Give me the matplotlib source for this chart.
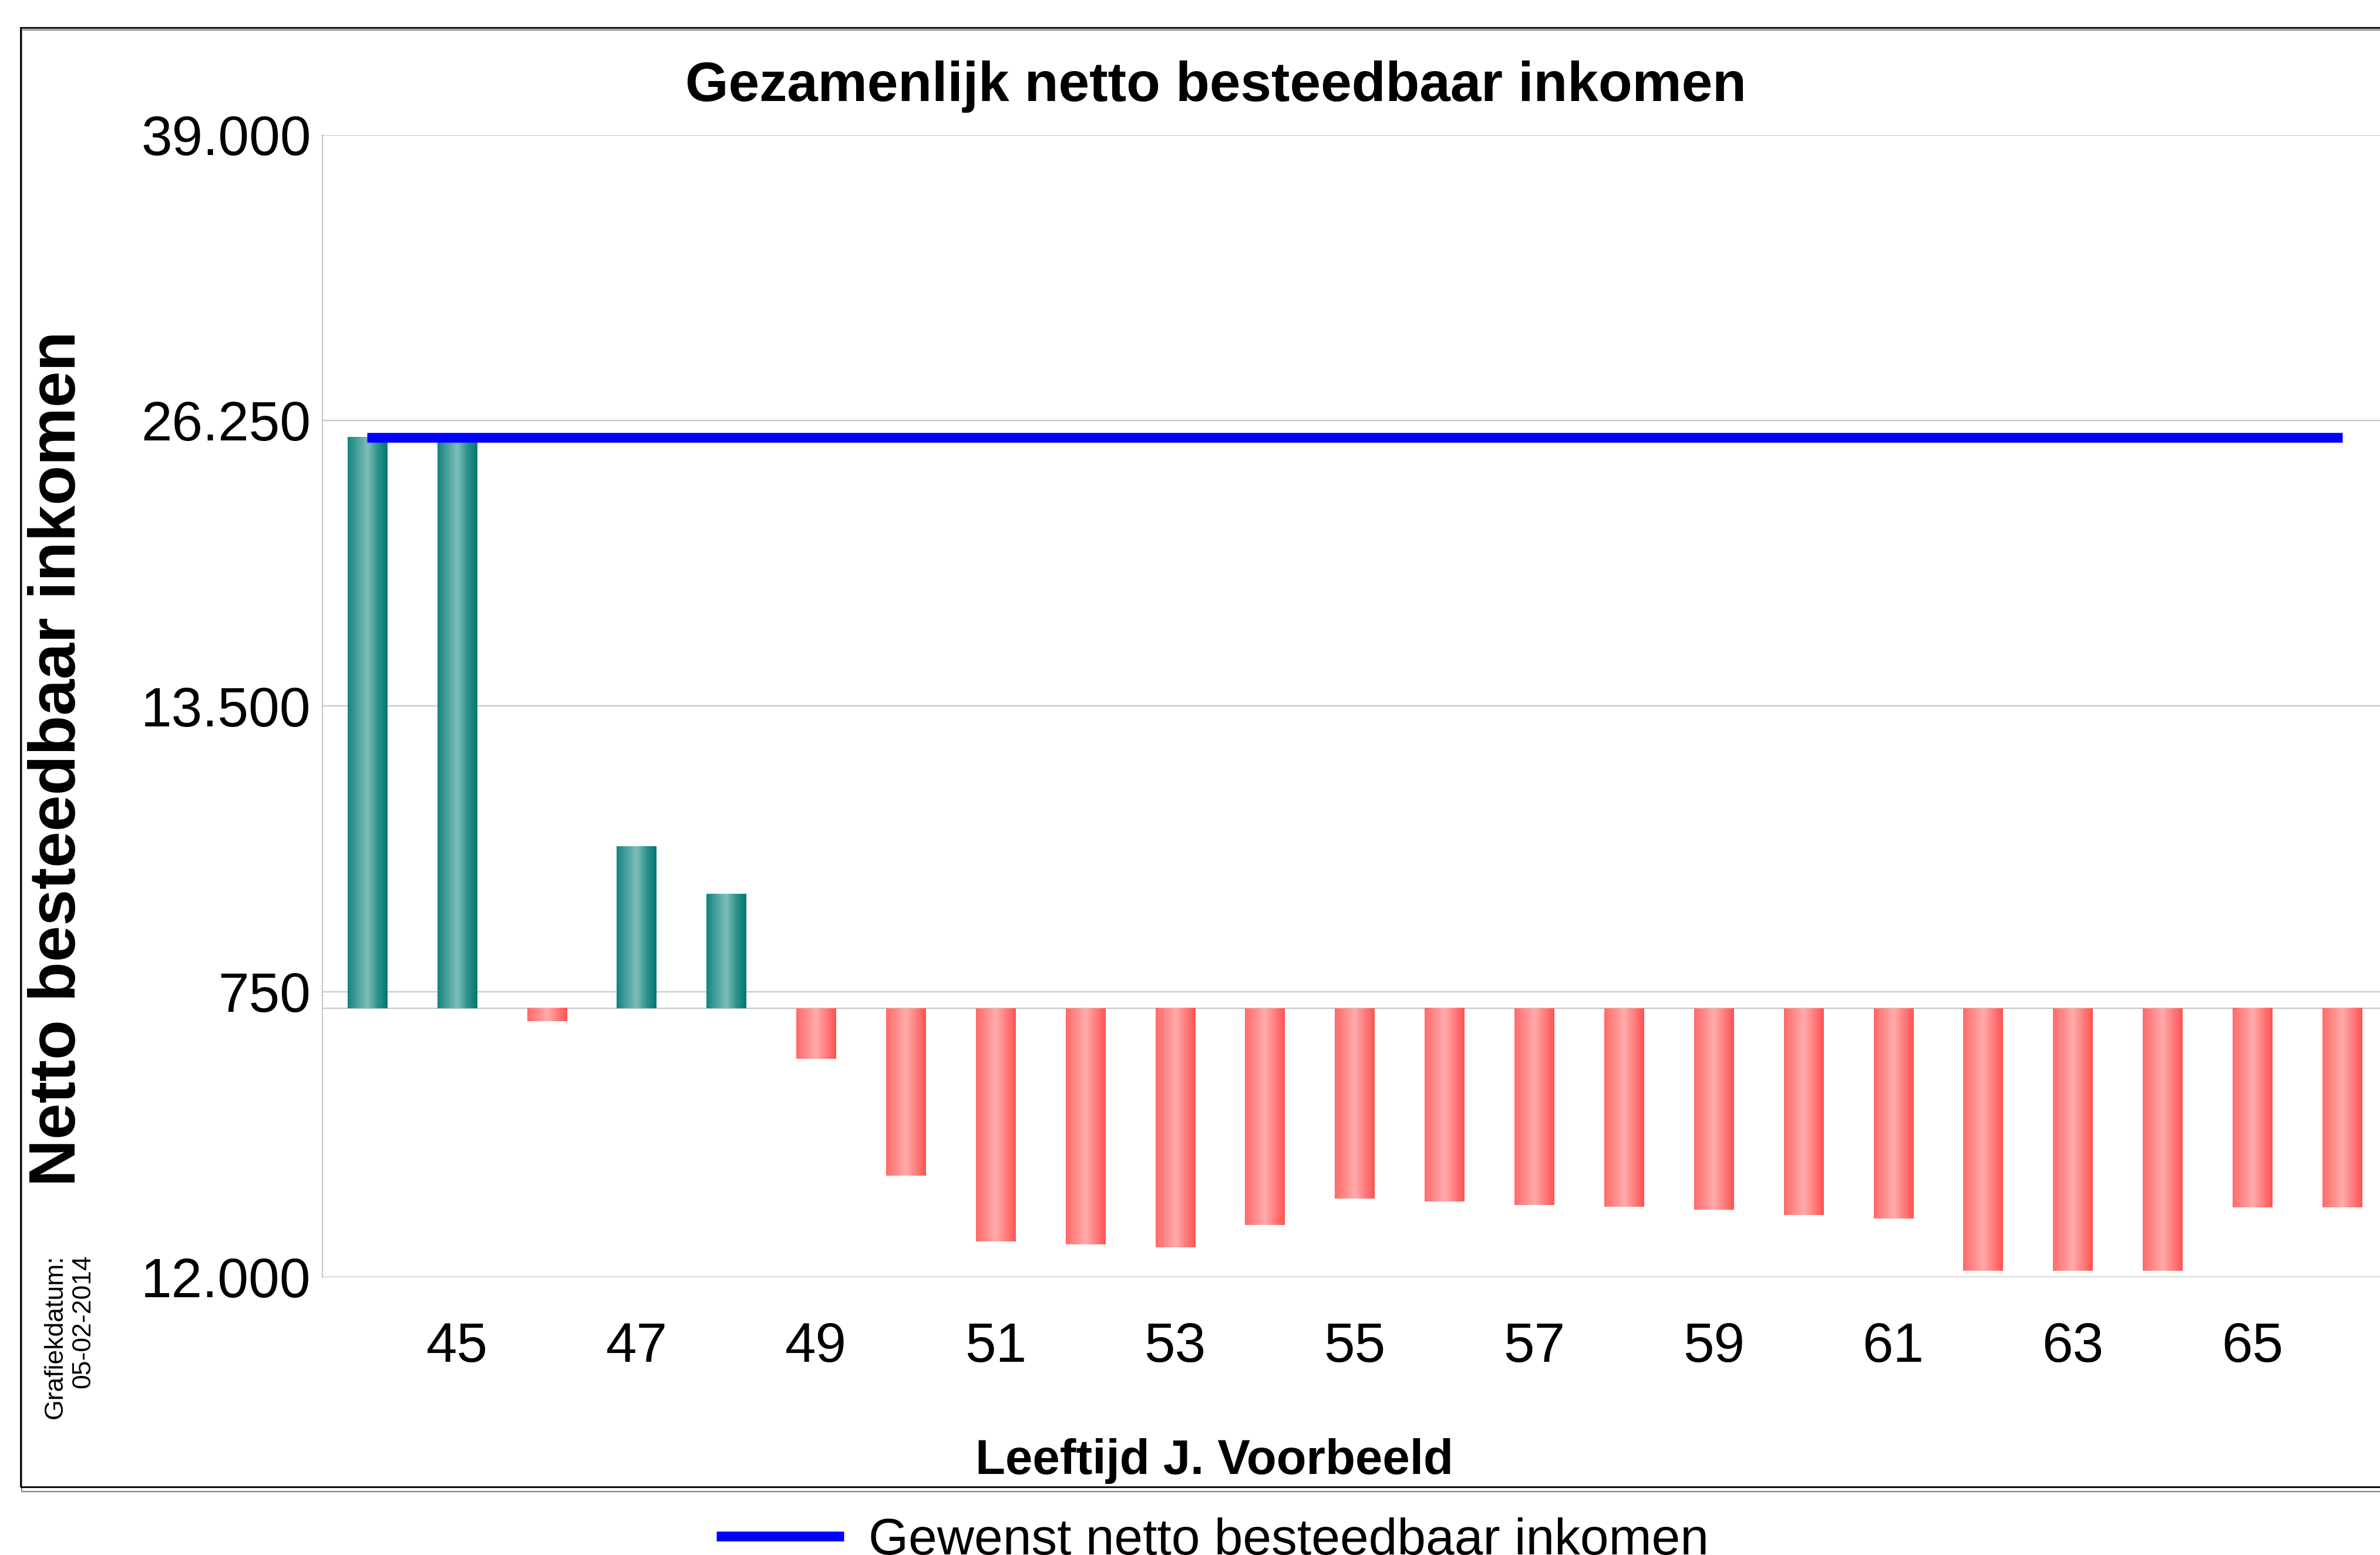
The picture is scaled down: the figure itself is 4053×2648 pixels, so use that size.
import numpy as np
import matplotlib
matplotlib.use("Agg")
import matplotlib.pyplot as plt
from matplotlib import ticker as tick
from matplotlib.colors import LinearSegmentedColormap
from matplotlib.patches import Rectangle

plt.rcParams['font.family'] = ['Liberation Sans', 'DejaVu Sans']

# data
ages = np.arange(44, 67)
inkomen = [25500, 25500, -580, 7210, 5110, -2240, -7460, -10400, -10530, -10670,
           -9670, -8490, -8630, -8780, -8850, -8990, -9210, -9370,
           -11700, -11700, -11700, -8890, -8890]
gewenst = [25500] * len(ages)
yticks = np.arange(-12000, 39001, 12750)
xticks = np.arange(45, 66, 2)

W, H = 4053, 2648
fig = plt.figure(figsize=(W / 100, H / 100), dpi=100)
ax = fig.add_axes([549 / W, 473 / H, (4065 - 549) / W, (2175 - 229.6) / H])

teal = LinearSegmentedColormap.from_list('teal', ['#12857f', '#4aa19c', '#7fbdb9', '#2f928c', '#007770'])
pink = LinearSegmentedColormap.from_list('pink', ['#ff6a6a', '#ff8a8a', '#ffacac', '#ff7e7e', '#ff5252'])
grad = np.linspace(0, 1, 256)[np.newaxis, :]

bars = ax.bar(ages, inkomen, width=0.44, zorder=2, linewidth=0)
for b, v in zip(bars, inkomen):
    cm = teal if v > 0 else pink
    b.set_facecolor(cm(0.5))
    x0 = b.get_x()
    x1 = x0 + b.get_width()
    ax.imshow(grad, cmap=cm, extent=[x0, x1, min(0, v), max(0, v)],
              aspect='auto', interpolation='bicubic', zorder=3)

line, = ax.plot(ages, gewenst, color='#0000ff', lw=12, solid_capstyle='butt', zorder=4,
                label='Gewenst netto besteedbaar inkomen')

ax.axhline(0, color='#c8c8c8', lw=1.6, zorder=1)
ax.set_xlim(43.5, 66.5)
ax.set_ylim(-12000, 39000)
ax.set_yticks(yticks)
ax.set_xticks(xticks)
ax.yaxis.set_major_formatter(tick.FuncFormatter(lambda v, p: f"{abs(v):,.0f}".replace(',', '.')))
ax.tick_params(axis='y', length=0, pad=14, labelsize=68)
ax.tick_params(axis='x', length=0, pad=54, labelsize=68)
ax.grid(axis='y', color='#c8c8c8', lw=1.6, zorder=0)
ax.set_axisbelow(True)
for s in ['top', 'right', 'bottom']:
    ax.spines[s].set_visible(False)
ax.spines['left'].set_color('#c8c8c8')
ax.spines['left'].set_linewidth(1.6)

ax.set_ylabel('Netto besteedbaar inkomen', fontsize=80, fontweight='bold', va='center')
ax.yaxis.set_label_coords(-0.1280, 0.454)
ax.set_xlabel('Leeftijd J. Voorbeeld', fontsize=60, fontweight='bold', va='baseline')
ax.xaxis.set_label_coords(0.432, -0.1722)

fig.suptitle('Gezamenlijk netto besteedbaar inkomen', x=2070 / W, y=(H - 172) / H,
             va='baseline', fontsize=68, fontweight='bold')

fig.text(118 / W, (H - 2137) / H, 'Grafiekdatum:\n05-02-2014', rotation=90, fontsize=32,
         ha='center', va='top', multialignment='right')

fig.legend(handles=[line], loc='center left', bbox_to_anchor=(1220 / W, (H - 2624) / H),
           frameon=False, fontsize=63, handlelength=2.48, handletextpad=0.48,
           borderpad=0, borderaxespad=0)

# double frame round the chart
fig.patches.append(Rectangle((37 / W, (H - 2540) / H), 1.0, (2540 - 51) / H,
                             transform=fig.transFigure, fill=False, ec='#808080', lw=1.5))
fig.patches.append(Rectangle((35 / W, (H - 2532) / H), 1.0, (2532 - 47) / H,
                             transform=fig.transFigure, fill=False, ec='black', lw=2))

fig.savefig('out.png', dpi=100)
